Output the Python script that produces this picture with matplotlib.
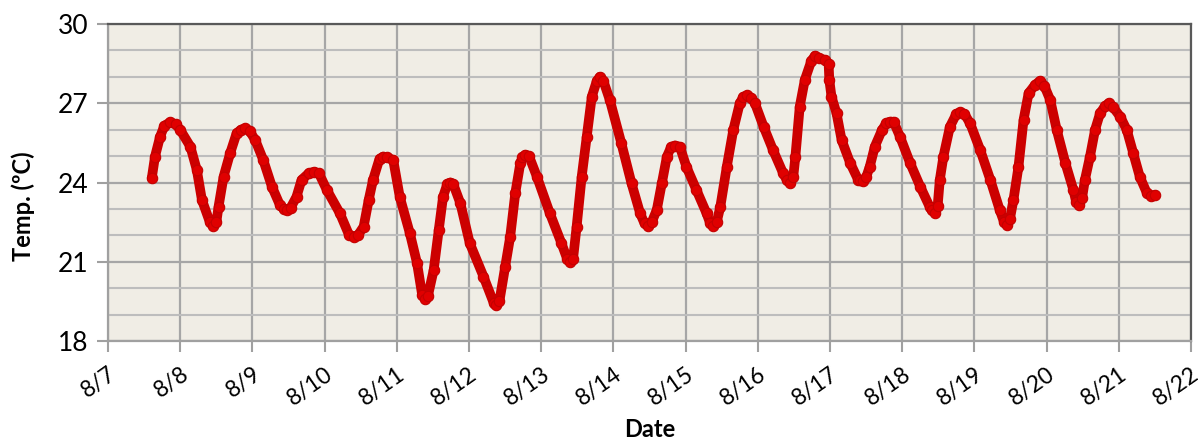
import matplotlib
matplotlib.use("Agg")
import matplotlib.pyplot as plt
from matplotlib.ticker import MultipleLocator, FixedLocator

# Day of August (fractional) and temperature
days = [7.605, 7.65, 7.72, 7.78, 7.86, 7.94, 8.00, 8.14, 8.23, 8.30, 8.41, 8.46, 8.50,
        8.53, 8.60, 8.69, 8.78, 8.84, 8.90, 8.96, 9.04, 9.15, 9.27, 9.38, 9.43, 9.48, 9.53,
        9.61, 9.68, 9.78, 9.85, 9.92, 10.03, 10.21, 10.34, 10.40, 10.46, 10.54, 10.61,
        10.67, 10.76, 10.81, 10.86, 10.95, 11.04, 11.18, 11.28, 11.35, 11.39, 11.43,
        11.51, 11.58, 11.64, 11.70, 11.74, 11.78, 11.88, 12.01, 12.20, 12.34, 12.38, 12.42,
        12.50, 12.57, 12.64, 12.71, 12.74, 12.78, 12.83, 12.94, 13.12, 13.28, 13.36, 13.40,
        13.44, 13.49, 13.56, 13.63, 13.70, 13.77, 13.81, 13.86, 13.95, 14.11, 14.25, 14.37,
        14.43, 14.48, 14.53, 14.60, 14.67, 14.74, 14.80, 14.85, 14.92, 15.01, 15.15, 15.29,
        15.34, 15.38, 15.43, 15.48, 15.57, 15.66, 15.75, 15.80, 15.85, 15.91, 15.96, 16.08,
        16.21, 16.35, 16.40, 16.45, 16.49, 16.52, 16.58, 16.65, 16.74, 16.79, 16.85, 16.93,
        16.98, 16.99, 17.02, 17.09, 17.16, 17.28, 17.39, 17.41, 17.46, 17.50, 17.55, 17.62,
        17.72, 17.78, 17.83, 17.88, 17.97, 18.11, 18.25, 18.38, 18.41, 18.45, 18.49, 18.52,
        18.57, 18.66, 18.75, 18.80, 18.86, 18.94, 19.08, 19.22, 19.35, 19.41, 19.45, 19.49,
        19.54, 19.61, 19.68, 19.75, 19.84, 19.91, 19.97, 20.05, 20.14, 20.26, 20.37, 20.41,
        20.45, 20.49, 20.53, 20.60, 20.67, 20.74, 20.81, 20.86, 20.92, 21.02, 21.11, 21.20,
        21.29, 21.39, 21.45, 21.50]
temps = [24.16, 24.98, 25.73, 26.15, 26.28, 26.20, 25.99, 25.36, 24.47, 23.34, 22.50, 22.35, 22.50,
         23.08, 24.22, 25.10, 25.86, 26.00, 26.05, 25.95, 25.60, 24.85, 23.84, 23.15, 23.00, 22.96, 23.05,
         23.46, 24.10, 24.35, 24.40, 24.35, 23.72, 22.84, 22.00, 21.95, 22.00, 22.33, 23.34,
         24.10, 24.90, 24.98, 24.95, 24.85, 23.46, 22.08, 20.94, 19.75, 19.60, 19.70,
         20.69, 22.20, 23.46, 23.95, 24.00, 23.95, 23.21, 21.70, 20.44, 19.45, 19.35, 19.50,
         20.81, 21.95, 23.59, 24.73, 24.95, 25.05, 25.00, 24.22, 22.83, 21.70, 21.10, 21.00,
         21.10, 22.33, 24.22, 25.73, 27.25, 27.85, 28.00, 27.85, 27.12, 25.48, 23.97, 22.83,
         22.45, 22.35, 22.50, 22.96, 23.97, 24.98, 25.35, 25.40, 25.35, 24.60, 23.72, 22.83,
         22.45, 22.35, 22.50, 23.08, 24.60, 25.99, 27.00, 27.25, 27.30, 27.20, 27.00, 26.11,
         25.23, 24.35, 24.10, 24.00, 24.20, 24.98, 26.87, 27.88, 28.60, 28.80, 28.70, 28.64,
         28.50, 27.88, 27.25, 26.62, 25.61, 24.73, 24.10, 24.10, 24.05, 24.20, 24.60, 25.36,
         25.99, 26.25, 26.30, 26.30, 25.73, 24.73, 23.84, 23.08, 22.95, 22.85, 23.10, 24.10,
         24.98, 26.11, 26.60, 26.65, 26.60, 26.24, 25.23, 24.10, 22.96, 22.50, 22.40, 22.60,
         23.34, 24.60, 26.37, 27.38, 27.70, 27.85, 27.65, 27.12, 25.99, 24.73, 23.72, 23.25,
         23.15, 23.40, 24.10, 24.98, 25.99, 26.62, 26.90, 27.00, 26.85, 26.49, 25.99, 25.10,
         24.22, 23.59, 23.50, 23.53]

x_ticks = list(range(7, 23))
x_labels = [f"8/{d}" for d in x_ticks]
y_major = [18, 21, 24, 27, 30]

plt.rcParams['font.family'] = ['Lato', 'DejaVu Sans']

fig = plt.figure(figsize=(11.98, 4.42), dpi=100)
ax = fig.add_axes([0.0902, 0.2285, 0.9040, 0.7172])
ax.set_facecolor('#F0EDE5')

ax.plot(days, temps, color='#CC0000', lw=7.0, solid_joinstyle='round',
        solid_capstyle='round', zorder=3)
ax.plot(days, temps, ls='none', marker='o', ms=7.5, mfc='#E00000', mec='#C40000',
        mew=0.8, zorder=4)

ax.set_xlim(7, 22)
ax.set_ylim(18, 30)
ax.xaxis.set_major_locator(FixedLocator(x_ticks))
ax.set_xticklabels(x_labels, rotation=35, ha='right', rotation_mode='anchor', fontsize=16.5)
ax.yaxis.set_major_locator(FixedLocator(y_major))
ax.yaxis.set_minor_locator(MultipleLocator(1))
ax.tick_params(axis='y', which='major', length=8, width=1.5, color='#A0A0A0',
               labelsize=19, pad=6)
ax.tick_params(axis='y', which='minor', length=0)
ax.tick_params(axis='x', which='major', length=8, width=1.5, color='#A0A0A0', pad=8)

ax.grid(True, which='major', axis='both', color='#A6A6A6', lw=1.6, zorder=1)
ax.grid(True, which='minor', axis='y', color='#BDBDBD', lw=1.5, zorder=1)
ax.set_axisbelow(True)

for s in ['top', 'right']:
    ax.spines[s].set_color('#595959')
    ax.spines[s].set_linewidth(1.6)
for s in ['left', 'bottom']:
    ax.spines[s].set_color('#A0A0A0')
    ax.spines[s].set_linewidth(1.6)

ax.set_ylabel('Temp. (ºC)', fontsize=17, fontweight='bold')
ax.yaxis.set_label_coords(-0.067, 0.426)
ax.set_xlabel('Date', fontsize=17, fontweight='bold')
ax.xaxis.set_label_coords(0.5, -0.243)

fig.savefig('out.png', dpi=100, facecolor='white')
